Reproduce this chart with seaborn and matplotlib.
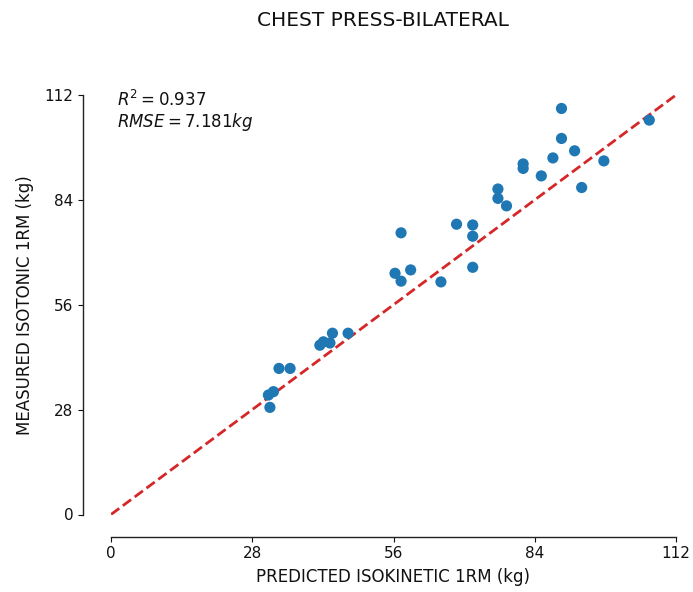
import numpy as np
import pandas as pd
import matplotlib
matplotlib.use("Agg")
import matplotlib.pyplot as plt
import seaborn as sns

predicted = [31.5, 31.2, 32.2, 33.3, 35.5, 41.4, 42.1, 43.4, 43.9, 47.0,
             56.3, 57.5, 59.4, 57.5, 65.4, 68.5, 71.7, 71.7, 71.7, 76.7,
             76.7, 78.4, 81.7, 81.7, 85.3, 87.6, 89.3, 89.3, 91.9, 93.3,
             97.7, 106.7]
measured = [28.6, 31.9, 32.8, 39.0, 39.0, 45.2, 46.1, 45.8, 48.4, 48.4,
            64.4, 62.3, 65.3, 75.2, 62.1, 77.5, 77.3, 74.3, 66.0, 86.9,
            84.4, 82.4, 93.6, 92.4, 90.4, 95.2, 100.4, 108.4, 97.1, 87.3,
            94.4, 105.3]
ticks = [0, 28, 56, 84, 112]
identity = [0, 112]

title = "CHEST PRESS-BILATERAL"
xlabel = "PREDICTED ISOKINETIC 1RM (kg)"
ylabel = "MEASURED ISOTONIC 1RM (kg)"
stats_lines = [r"$R^2 = 0.937$", r"$RMSE = 7.181kg$"]

sns.set_style("ticks")
plt.rcParams['font.family'] = ['DejaVu Sans']
plt.rcParams['text.color'] = '#111111'
plt.rcParams['axes.labelcolor'] = '#111111'
plt.rcParams['xtick.color'] = '#111111'
plt.rcParams['ytick.color'] = '#111111'

df = pd.DataFrame({"pred": predicted, "meas": measured})

fig = plt.figure(figsize=(6.93, 5.92), dpi=100)
ax = fig.add_axes([111/693, 77.5/592, 565/693, 419.5/592])

sns.lineplot(x=identity, y=identity, ax=ax, color="#d62728", linestyle="--",
             linewidth=2, zorder=1)
sns.scatterplot(data=df, x="pred", y="meas", ax=ax, color="#1f77b4", s=65,
                edgecolor="none", zorder=3)

ax.set_xlim(0, 112)
ax.set_ylim(0, 112)
ax.set_xticks(ticks)
ax.set_yticks(ticks)
ax.tick_params(labelsize=11)
ax.set_xlabel(xlabel, fontsize=12, labelpad=5)
ax.set_ylabel(ylabel, fontsize=12, labelpad=8)
fig.text(383/693, 1 - 21/592, title, fontsize=14.5, ha="center", va="center")

sns.despine(ax=ax, offset={'left': 20, 'bottom': 16}, trim=True)
for sp in ax.spines.values():
    sp.set_linewidth(1.0)
    sp.set_color("#222222")

ax.text(0.011, 0.988, stats_lines[0], transform=ax.transAxes, fontsize=12,
        va="center", ha="left")
ax.text(0.011, 0.936, stats_lines[1], transform=ax.transAxes, fontsize=12,
        va="center", ha="left")

fig.savefig("out.png", dpi=100)
